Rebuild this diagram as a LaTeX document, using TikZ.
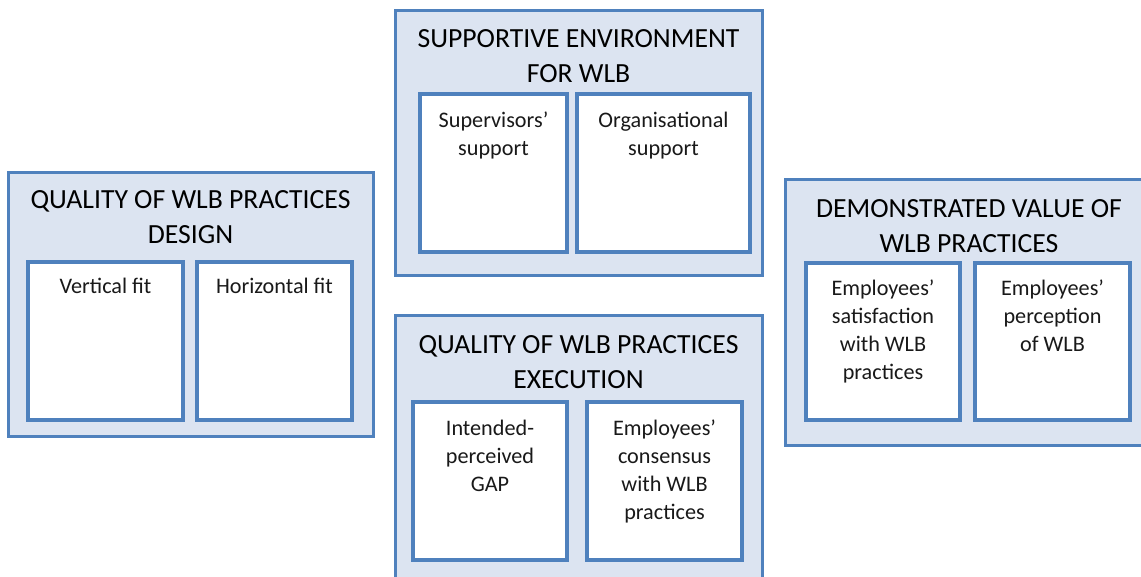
\documentclass[tikz,border=0pt]{standalone}
\usepackage{fontspec}
\setmainfont{Carlito}
\begin{document}
\begin{tikzpicture}[x=1pt,y=-1pt,
  outerbox/.style={draw=boxblue, fill=boxfill, line width=3pt, inner sep=0pt},
  innerbox/.style={draw=boxblue, fill=white, line width=3.5pt, inner sep=0pt},
  % multi-line texts are placed by the baseline of their last line
  headtext/.style={anchor=base, align=center, inner sep=0pt,
    font={\fontsize{27.7}{35}\selectfont}},
  bodytext/.style={anchor=base, align=center, inner sep=0pt,
    font={\fontsize{22.2}{28}\selectfont}, text=black!90}]
\definecolor{boxblue}{HTML}{4F81BD}
\definecolor{boxfill}{HTML}{DCE4F1}
\useasboundingbox (0,0) rectangle (1141,576);
\clip (0,0) rectangle (1141,576);

% Quality of WLB practices design
\node[outerbox, minimum width=365, minimum height=264] (design) at (190.5,304) {};
\node[innerbox, minimum width=155, minimum height=158] (vfit) at (105.5,341) {};
\node[innerbox, minimum width=155, minimum height=158] (hfit) at (274.5,341) {};
\node[headtext] (designT) at (190.5,243) {QUALITY OF WLB PRACTICES\\DESIGN};
\node[bodytext] (vfitT) at (105.5,293) {Vertical fit};
\node[bodytext] (hfitT) at (274.5,293) {Horizontal fit};

% Supportive environment
\node[outerbox, minimum width=367, minimum height=265] (env) at (578.5,142.5) {};
\node[innerbox, minimum width=147, minimum height=158] (sup) at (493.5,173) {};
\node[innerbox, minimum width=173, minimum height=158] (org) at (663.5,173) {};
\node[headtext] (envT) at (578.5,82) {SUPPORTIVE ENVIRONMENT\\FOR WLB};
\node[bodytext] (supT) at (493.5,155) {Supervisors’\\support};
\node[bodytext] (orgT) at (663.5,155) {Organisational\\support};

% Quality of WLB practices execution
\node[outerbox, minimum width=367, minimum height=285] (exec) at (578.5,457.5) {};
\node[innerbox, minimum width=154, minimum height=158] (gap) at (490,481) {};
\node[innerbox, minimum width=155, minimum height=158] (cons) at (664.5,481) {};
\node[headtext] (execT) at (578.5,388) {QUALITY OF WLB PRACTICES\\EXECUTION};
\node[bodytext] (gapT) at (490,491) {Intended-\\perceived\\GAP};
\node[bodytext] (consT) at (664.5,519) {Employees’\\consensus\\with WLB\\practices};

% Demonstrated value
\node[outerbox, minimum width=365, minimum height=266] (value) at (967.5,312) {};
\node[innerbox, minimum width=154, minimum height=157] (sat) at (883,341.5) {};
\node[innerbox, minimum width=155, minimum height=157] (perc) at (1052.5,341.5) {};
\node[headtext] (valueT) at (969,252) {DEMONSTRATED VALUE OF\\WLB PRACTICES};
\node[bodytext] (satT) at (883,379) {Employees’\\satisfaction\\with WLB\\practices};
\node[bodytext] (percT) at (1052.5,351) {Employees’\\perception\\of WLB};
\end{tikzpicture}
\end{document}
